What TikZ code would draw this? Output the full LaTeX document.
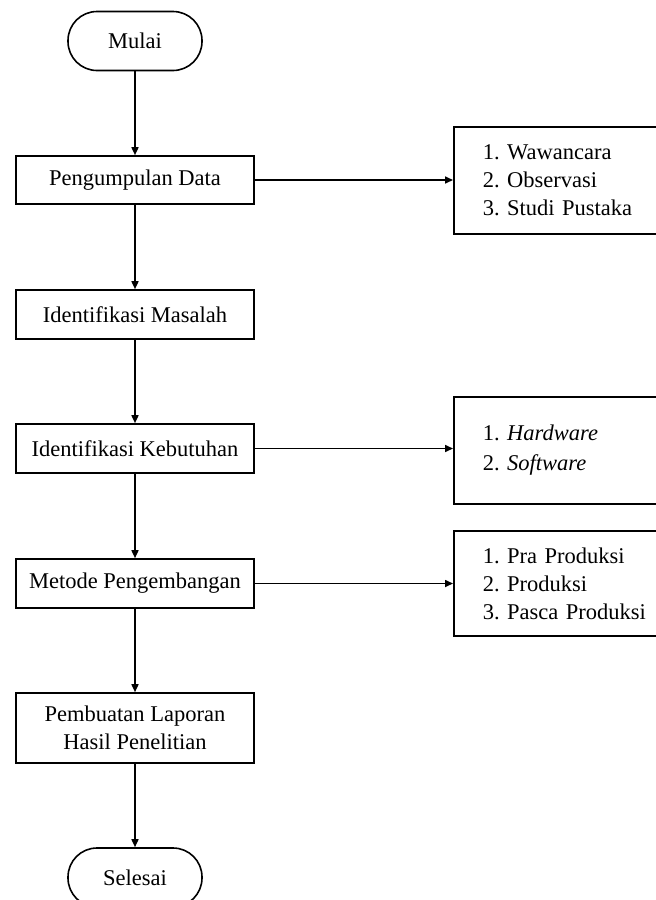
\documentclass[tikz,border=0pt]{standalone}
\usepackage{fontspec}
\setmainfont{Liberation Serif}
\usetikzlibrary{arrows.meta}
\frenchspacing
\tikzset{
  proses/.style={shape=rectangle,draw=black,line width=1.6pt,minimum width=238pt,minimum height=48pt,align=center,inner sep=0pt},
  terminal/.style={shape=rectangle,draw=black,line width=1.6pt,rounded corners=29pt,minimum width=134pt,minimum height=59pt,inner sep=0pt},
  daftar/.style={shape=rectangle,draw=black,line width=1.6pt,anchor=west,minimum height=107pt,text width=200pt,align=left,inner xsep=29pt,inner ysep=0pt},
  panah/.style={line width=1.6pt,-{Triangle[length=8pt,width=7pt]}}
}
\begin{document}
\begin{tikzpicture}[x=1pt,y=-1pt,font=\fontsize{22.5}{28}\selectfont]
  \useasboundingbox (0,0) rectangle (656,900);
  \clip (0,0) rectangle (656,900);

  \node[terminal] (mulai) at (135,41) {Mulai};
  \node[proses] (pd) at (135,180) {Pengumpulan Data};
  \node[proses,minimum height=49pt] (im) at (135,314.5) {Identifikasi Masalah};
  \node[proses,minimum height=49pt] (ik) at (135,448.5) {Identifikasi Kebutuhan};
  \node[proses,minimum height=49pt] (mp) at (135,583.5) {Metode Pengembangan};
  \node[proses,minimum height=70pt] (pl) at (135,728) {Pembuatan Laporan\\Hasil Penelitian};
  \node[terminal] (selesai) at (135,877.5) {Selesai};

  \node[daftar] (b1) at (453,180.5) {1. Wawancara\\2. Observasi\\3. Studi Pustaka};
  \node[daftar] (b2) at (453,450.5) {1. \textit{Hardware}\\[2pt]2. \textit{Software}\\[4pt]};
  \node[daftar,minimum height=105pt] (b3) at (453,583.5) {1. Pra Produksi\\2. Produksi\\3. Pasca Produksi};

  % alur utama
  \draw[panah] (mulai) -- (pd);
  \draw[panah] (pd) -- (im);
  \draw[panah] (im) -- (ik);
  \draw[panah] (ik) -- (mp);
  \draw[panah] (mp) -- (pl);
  \draw[panah] (pl) -- (selesai);

  % keterangan
  \draw[panah] (pd.east) -- (pd.east -| b1.west);
  \draw[panah] (ik.east) -- (ik.east -| b2.west);
  \draw[panah] (mp.east) -- (mp.east -| b3.west);
\end{tikzpicture}
\end{document}
